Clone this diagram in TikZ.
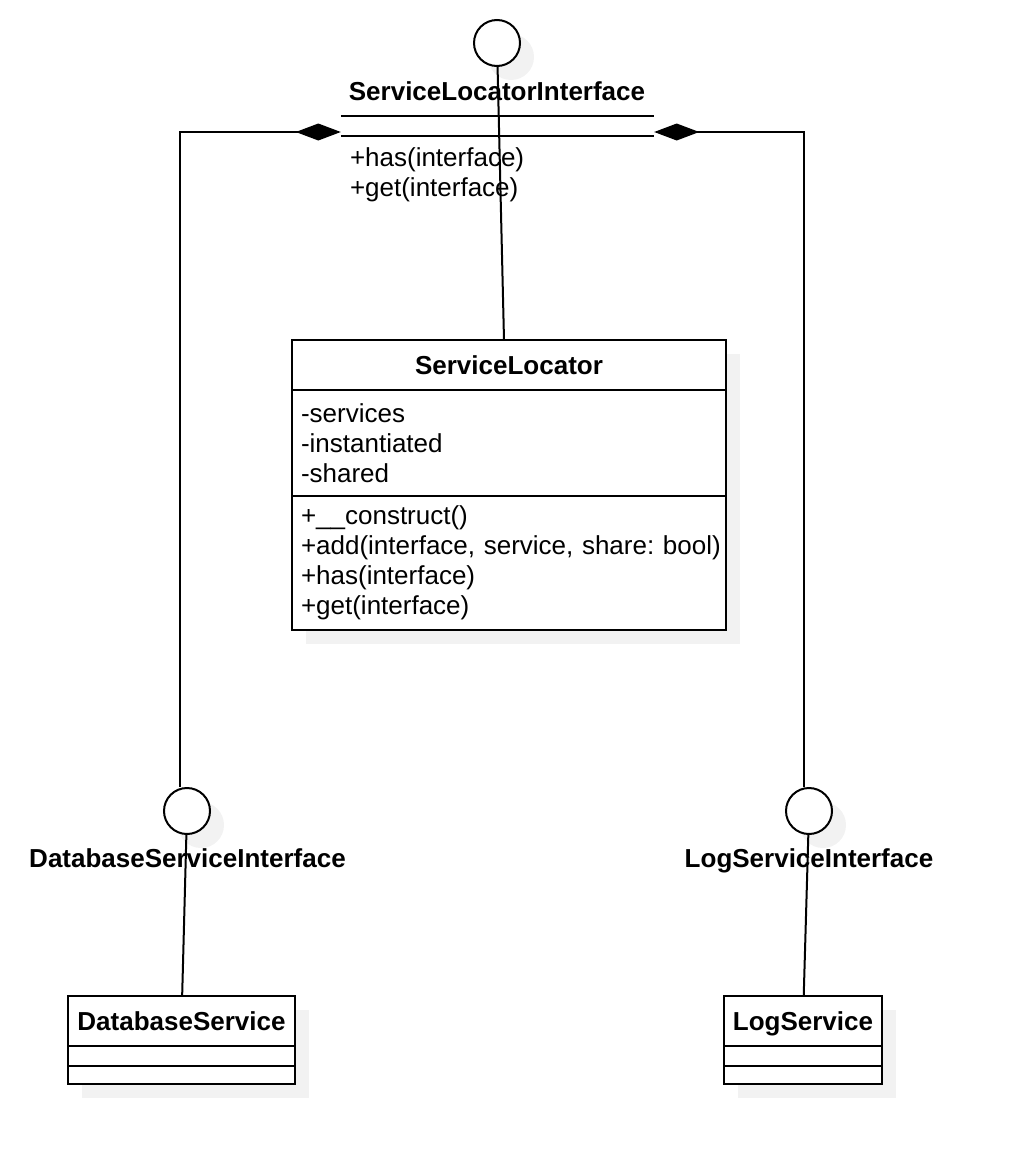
\documentclass[tikz,border=0pt]{standalone}
\usepackage{fontspec}
\setmainfont{Liberation Sans}
\frenchspacing
\usetikzlibrary{arrows.meta,backgrounds,calc,positioning}

\tikzset{
	classname/.style={draw, fill=white, line width=2pt, inner sep=0pt, outer sep=0pt, minimum height=50pt, text depth=0pt, font=\fontsize{26}{30}\selectfont\bfseries},
	compartment/.style={draw, fill=white, line width=2pt, inner xsep=9pt, inner ysep=0pt, outer sep=0pt, align=left, font=\fontsize{26}{30}\selectfont},
	iface/.style={circle, draw, fill=white, line width=2pt, minimum size=46pt, inner sep=0pt},
	ifacename/.style={inner sep=0pt, font=\fontsize{26}{30}\selectfont\bfseries},
	ifaceops/.style={inner xsep=9pt, inner ysep=11pt, align=left, font=\fontsize{26}{30}\selectfont},
	umlline/.style={line width=2pt},
	comp/.style={line width=2pt, {Diamond[length=45pt, width=17pt]}-},
	dropfill/.style={fill=black!5}
}

\begin{document}
\begin{tikzpicture}[x=1pt, y=-1pt]
			%%%%% START %%%%%
			
			\useasboundingbox (0, 0) rectangle (1022, 1164);
			
			% ServiceLocatorInterface
			\node[iface] (sliCirc) at (497, 43) {};
			\node[ifacename, anchor=base] (sliName) at (497, 100) {ServiceLocatorInterface};
			\node[ifaceops, text width=295pt, anchor=north] (sliOps) at (497.5, 136) {+has(interface)\\+get(interface)};
			\draw[umlline] ([yshift=20pt]sliOps.north west) -- ([yshift=20pt]sliOps.north east);
			\draw[umlline] (sliOps.north west) -- (sliOps.north east);
			
			% ServiceLocator
			\node[classname, minimum width=434pt] (slTitle) at (509, 365) {ServiceLocator};
			\node[compartment, text width=416pt, minimum height=106pt, below=0pt of slTitle] (slAttrs) {-services\\-instantiated\\-shared};
			\node[compartment, text width=416pt, minimum height=134pt, below=0pt of slAttrs] (slOps) {+\_\_construct()\\\mbox{+add(interface, service, share: bool)}\\+has(interface)\\+get(interface)};
			
			% DatabaseService
			\node[iface] (dbCirc) at (187, 811) {};
			\node[ifacename, anchor=base] (dbName) at (187.5, 867) {DatabaseServiceInterface};
			\node[classname, minimum width=227pt] (dbTitle) at (181.5, 1021) {DatabaseService};
			\node[compartment, minimum width=227pt, minimum height=20pt, below=0pt of dbTitle] (dbAttrs) {};
			\node[compartment, minimum width=227pt, minimum height=18pt, below=0pt of dbAttrs] (dbOps) {};
			
			% LogService
			\node[iface] (logCirc) at (809, 811) {};
			\node[ifacename, anchor=base] (logName) at (809, 867) {LogServiceInterface};
			\node[classname, minimum width=158pt] (logTitle) at (803, 1021) {LogService};
			\node[compartment, minimum width=158pt, minimum height=20pt, below=0pt of logTitle] (logAttrs) {};
			\node[compartment, minimum width=158pt, minimum height=18pt, below=0pt of logAttrs] (logOps) {};
			
			% realisations
			\draw[umlline] (sliCirc) -- ([xshift=-5pt]slTitle.north);
			\draw[umlline] (dbCirc) -- (dbTitle);
			\draw[umlline] (logCirc) -- (logTitle);
			
			% compositions
			\coordinate (compL) at ([yshift=4pt]sliOps.north west);
			\coordinate (compR) at ([yshift=4pt]sliOps.north east);
			\draw[comp] (compL) -| ([xshift=-7pt]dbCirc.north);
			\draw[comp] (compR) -| ([xshift=-5pt]logCirc.north);
			
			% shadows
			\begin{scope}[on background layer]
				\fill[dropfill] ($(sliCirc)+(14, 14)$) circle (23pt);
				\fill[dropfill] ($(dbCirc)+(14, 14)$) circle (23pt);
				\fill[dropfill] ($(logCirc)+(14, 14)$) circle (23pt);
				\fill[dropfill] ($(slTitle.north west)+(14, 14)$) rectangle ($(slOps.south east)+(14, 14)$);
				\fill[dropfill] ($(dbTitle.north west)+(14, 14)$) rectangle ($(dbOps.south east)+(14, 14)$);
				\fill[dropfill] ($(logTitle.north west)+(14, 14)$) rectangle ($(logOps.south east)+(14, 14)$);
			\end{scope}
			
			%%%%% END %%%%%
		\end{tikzpicture}
\end{document}
